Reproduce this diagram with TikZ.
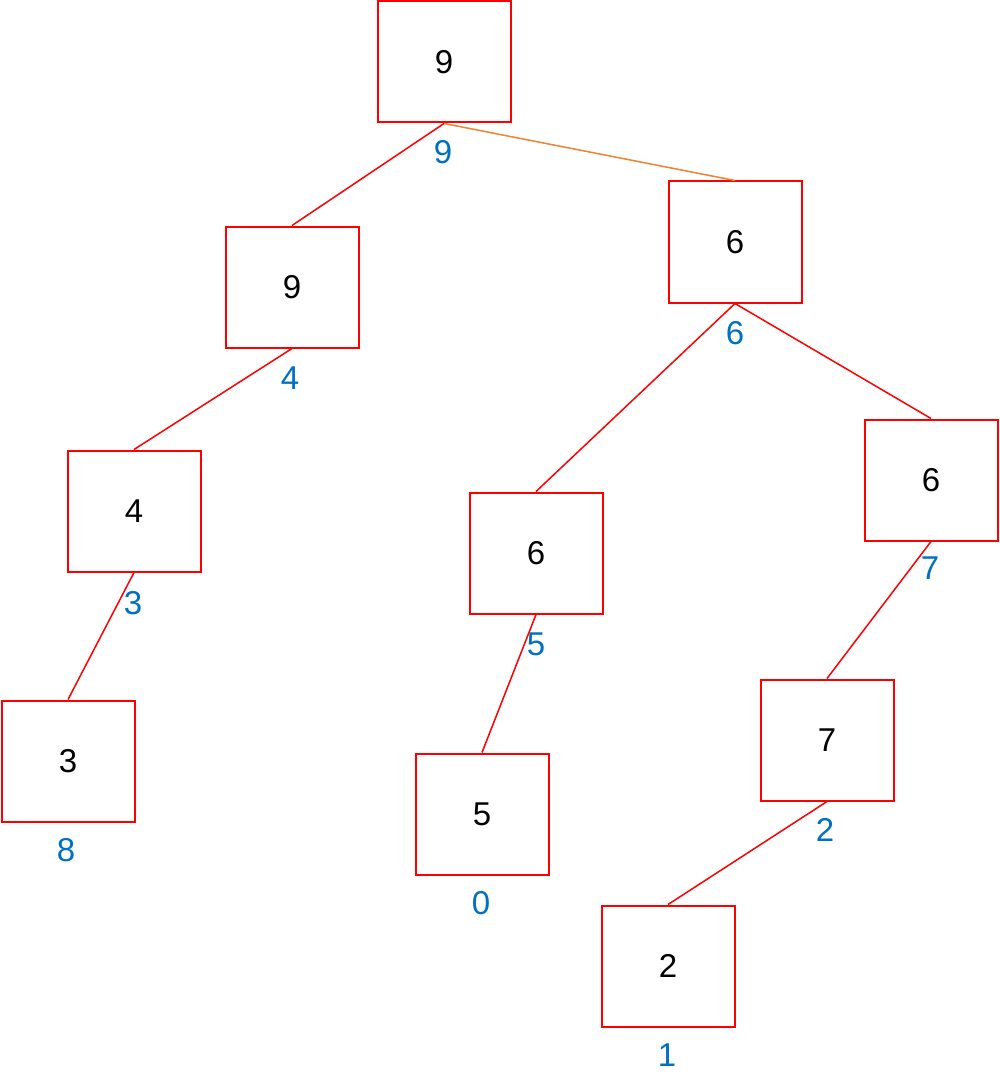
\documentclass[tikz,border=0pt]{standalone}
\usepackage{fontspec}
\setmainfont{Liberation Sans}
\definecolor{boxred}{RGB}{255,0,0}
\definecolor{lblblue}{RGB}{0,112,192}
\definecolor{edgeorange}{RGB}{240,130,50}
\begin{document}
\begin{tikzpicture}[x=1pt,y=-1pt,
  treebox/.style={draw=boxred,line width=2pt,minimum width=133pt,minimum height=121pt,inner sep=0pt,font=\fontsize{33}{33}\selectfont,text=black},
  idxlbl/.style={text=lblblue,font=\fontsize{33}{33}\selectfont,inner sep=0pt},
  edge/.style={draw=boxred,line width=1.5pt},
  edgeo/.style={draw=edgeorange,line width=1.5pt}]
\useasboundingbox (0,0) rectangle (1000,1086);
\node[treebox] (r) at (444,62) {9};
\node[treebox] (a) at (292,287) {9};
\node[treebox] (b) at (735,242) {6};
\node[treebox] (c) at (134,511) {4};
\node[treebox] (d) at (536,553) {6};
\node[treebox] (e) at (931,480) {6};
\node[treebox] (f) at (68,761) {3};
\node[treebox] (g) at (482,814) {5};
\node[treebox] (h) at (827,740) {7};
\node[treebox] (i) at (668,966) {2};
\node[idxlbl] (lr) at (443,152) {9};
\node[idxlbl] (la) at (290,378) {4};
\node[idxlbl] (lb) at (735,333) {6};
\node[idxlbl] (lc) at (133,603) {3};
\node[idxlbl] (ld) at (536,644) {5};
\node[idxlbl] (le) at (930,568) {7};
\node[idxlbl] (lf) at (66,850) {8};
\node[idxlbl] (lg) at (481,903) {0};
\node[idxlbl] (lh) at (825,830) {2};
\node[idxlbl] (li) at (667,1055) {1};
\draw[edge] (r.south) -- (a.north);
\draw[edgeo] (r.south) -- (b.north);
\draw[edge] (a.south) -- (c.north);
\draw[edge] (c.south) -- (f.north);
\draw[edge] (b.south) -- (d.north);
\draw[edge] (b.south) -- (e.north);
\draw[edge] (d.south) -- (g.north);
\draw[edge] (e.south) -- (h.north);
\draw[edge] (h.south) -- (i.north);
\end{tikzpicture}
\end{document}
